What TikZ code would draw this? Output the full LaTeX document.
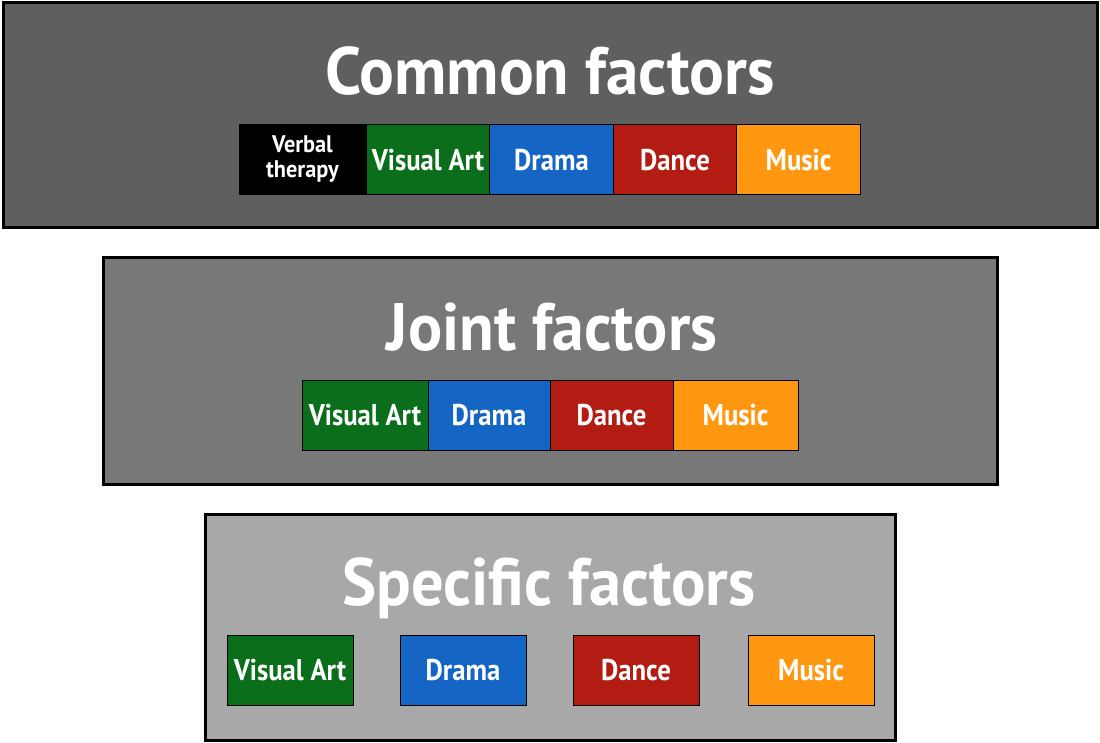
\documentclass[tikz,border=0pt]{standalone}
\usepackage{fontspec}
\usepackage{graphicx}
\setmainfont{PT Sans}
\definecolor{bgA}{HTML}{5F5F5F}
\definecolor{bgB}{HTML}{787878}
\definecolor{bgC}{HTML}{A8A8A8}
\definecolor{cgreen}{HTML}{0A6E1A}
\definecolor{cblue}{HTML}{1565C4}
\definecolor{cred}{HTML}{B21C12}
\definecolor{corange}{HTML}{FF9810}
\newcommand{\narrowtxt}[1]{\scalebox{0.89}[1]{#1}}
\newcommand{\titletxt}[1]{\scalebox{0.97}[1]{#1}}
\begin{document}
\begin{tikzpicture}[x=1pt,y=-1pt,
  panel/.style={draw=black,line width=3pt},
  title/.style={text=white,font=\bfseries\fontsize{67}{67}\selectfont,anchor=base,inner sep=0pt},
  cell/.style={draw=black,line width=1pt,minimum width=#1,minimum height=70pt,inner sep=0pt,text=white,font=\bfseries\fontsize{30}{30}\selectfont},
  cell/.default=124pt
]
\useasboundingbox (0,0) rectangle (1100,743);
% panels
\node[panel,fill=bgA,minimum width=1094pt,minimum height=225pt,inner sep=0pt] (pA) at (550,115.5) {};
\node[panel,fill=bgB,minimum width=894pt,minimum height=226pt,inner sep=0pt] (pB) at (550,371) {};
\node[panel,fill=bgC,minimum width=690pt,minimum height=226pt,inner sep=0pt] (pC) at (550,627) {};
% titles
\node[title] (tA) at (550,95) {\titletxt{Common factors}};
\node[title] (tB) at (552,350) {\scalebox{0.95}[1]{Joint factors}};
\node[title] (tC) at (549,605) {\scalebox{0.96}[1]{Specific factors}};
% common row
\node[cell=127pt,fill=black,font=\bfseries\fontsize{24}{27}\selectfont] (a1) at (302.5,160) {\scalebox{0.93}[1]{\begin{tabular}{@{}c@{}}Verbal\\[-2pt]therapy\end{tabular}}};
\node[cell,fill=cgreen] (a2) at (428,160) {\narrowtxt{Visual Art}};
\node[cell,fill=cblue] (a3) at (551.5,160) {\narrowtxt{Drama}};
\node[cell,fill=cred] (a4) at (675,160) {\narrowtxt{Dance}};
\node[cell,fill=corange] (a5) at (798.5,160) {\narrowtxt{Music}};
% joint row
\node[cell=126pt,fill=cgreen] (b1) at (365,415) {\narrowtxt{Visual Art}};
\node[cell=122pt,fill=cblue] (b2) at (489,415) {\narrowtxt{Drama}};
\node[cell=123pt,fill=cred] (b3) at (611.5,415) {\narrowtxt{Dance}};
\node[cell=125pt,fill=corange] (b4) at (735.5,415) {\narrowtxt{Music}};
% specific row
\node[cell=126pt,fill=cgreen] (c1) at (290,670.5) {\narrowtxt{Visual Art}};
\node[cell=126pt,fill=cblue] (c2) at (463,670.5) {\narrowtxt{Drama}};
\node[cell=126pt,fill=cred] (c3) at (636,670.5) {\narrowtxt{Dance}};
\node[cell=126pt,fill=corange] (c4) at (811,670.5) {\narrowtxt{Music}};
\end{tikzpicture}
\end{document}
